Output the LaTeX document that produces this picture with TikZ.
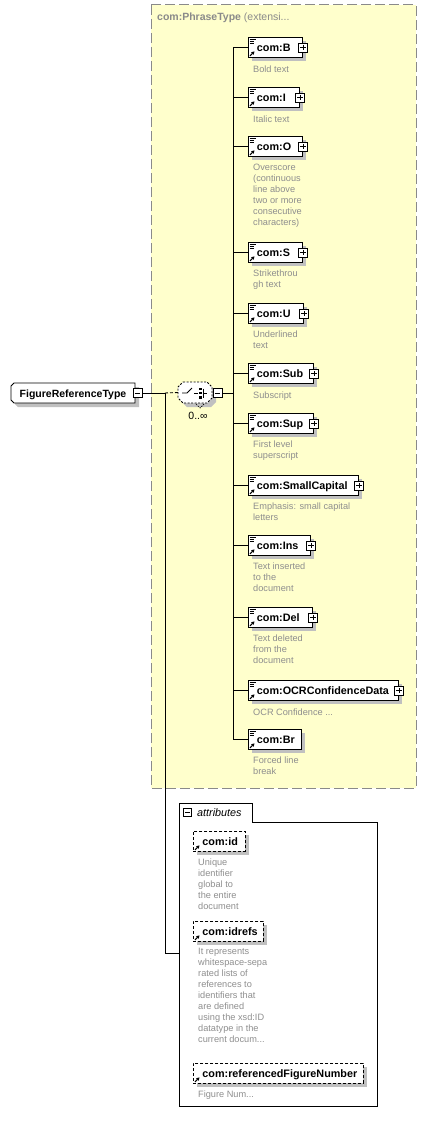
\documentclass[tikz,border=0pt]{standalone}
\usepackage{fontspec}
\setmainfont{Liberation Sans}
\usetikzlibrary{calc,shadows,arrows.meta}
\definecolor{ybg}{HTML}{FFFFCC}
\definecolor{ybord}{HTML}{8A8A8A}
\definecolor{desctxt}{HTML}{8E8E8E}
\definecolor{shad}{HTML}{C0C0C0}
\newcommand\xelicon[1]{%
  \draw[line width=0.7pt] ($(#1.north west)+(1.5,2)$) -- +(6,0);
  \draw[line width=0.7pt] ($(#1.north west)+(1.5,4)$) -- +(4.5,0);
  \draw[line width=0.7pt] ($(#1.north west)+(1.5,6)$) -- +(4.5,0);}
\newcommand\xarrow[1]{%
  \draw[line width=1pt,-{Triangle[length=3pt,width=3.4pt]}] ($(#1.south west)+(2,-2)$) -- +(4.5,-4.5);}
\newcommand\xplus[1]{%
  \node[pm] (#1p) at (#1.east) {};
  \draw[line width=0.8pt] ($(#1p.center)+(-2.7,0)$) -- +(5.4,0) ($(#1p.center)+(0,-2.7)$) -- +(0,5.4);}
\newcommand\xminus[1]{%
  \draw[line width=0.8pt] ($(#1.center)+(-2.7,0)$) -- +(5.4,0);}
\newcommand\xelem[4]{%
  \node[elem, text width=#3pt, anchor=north west] (#1) at (248,#2) {\hspace*{8.5pt}#4};
  \xelicon{#1}\xarrow{#1}}
\newcommand\xattr[4]{%
  \node[attrbox, text width=#3pt, anchor=north west] (#1) at (193,#2) {\hspace*{9pt}#4};
  \xarrow{#1}}
\begin{document}
\begin{tikzpicture}[x=1pt,y=-1pt,
  elem/.style={draw, fill=white, line width=0.9pt, inner xsep=0pt, inner ysep=0pt,
    minimum height=20pt, align=left, text height=10pt, text depth=1pt,
    font=\fontsize{10.8}{13}\selectfont\bfseries,
    general shadow={fill=shad, shadow xshift=4pt, shadow yshift=-4pt}},
  attrbox/.style={elem, dash pattern=on 3pt off 2pt},
  pm/.style={draw, fill=white, line width=0.8pt, minimum size=9pt, inner sep=0pt},
  descr/.style={anchor=north west, inner sep=0pt, align=left, text=desctxt,
    font=\fontsize{9.2}{11}\selectfont, execute at begin node=\strut},
  conn/.style={line width=0.9pt}]
\useasboundingbox (0,0) rectangle (427,1124);
% yellow extension area
\fill[ybg] (151,5) rectangle (416,788);
\draw[ybord, line width=1pt, dash pattern=on 10pt off 4pt] (151,5) rectangle (416,788);
\node[anchor=base west, inner sep=0pt, text=ybord, font=\fontsize{10.5}{12}\selectfont] (ptitle) at (157,21)
  {\textbf{com:PhraseType} (extensi...};
% root node
\fill[shad] (18,387) -- (139,387) -- (139,407) -- (18,407) -- (15,404) -- (15,390) -- cycle;
\draw[fill=white, line width=0.9pt] (14,383) -- (135,383) -- (135,403) -- (14,403) -- (11,400) -- (11,386) -- cycle;
\node[minimum width=124pt, minimum height=20pt, inner sep=0pt, text height=10pt, text depth=1pt,
  font=\fontsize{10.5}{12}\selectfont\bfseries] (root) at (73,393) {FigureReferenceType};
\node[pm] (rootm) at (137.5,393) {};
\xminus{rootm}
% choice compositor
\fill[shad] (187,386) -- (211,386) -- (216,391) -- (216,402) -- (211,407) -- (187,407) -- (182,402) -- (182,391) -- cycle;
\draw[fill=white, line width=0.9pt, dash pattern=on 2pt off 1.5pt] (183,382) -- (207,382) -- (212,387) -- (212,398) -- (207,403) -- (183,403) -- (178,398) -- (178,387) -- cycle;
\draw[line width=0.7pt, dash pattern=on 1.5pt off 1pt] (196,404) -- (200,408) -- (204,404);
\node[minimum width=34pt, minimum height=21pt, inner sep=0pt] (ch) at (195,392.5) {};
\draw[line width=0.9pt] (182,393) -- (187,393) -- (192,388);
\draw[line width=0.9pt] (194,393) -- (198,393);
\fill (198.5,387.5) rectangle (201.5,390);
\fill (198.5,391.8) rectangle (201.5,394.3);
\fill (198.5,396) rectangle (201.5,398.5);
\draw[line width=0.9pt] (203,388.5) -- (203,397.5) (203,393) -- (207,393);
\node[pm] (chm) at (217.5,393) {};
\xminus{chm}
\node[anchor=base, inner sep=0pt, font=\fontsize{10.5}{12}\selectfont] (card) at (198,419) {0..∞};
% child elements
\xelem{B}{37}{54}{com:B}\xplus{B}
\node[descr] (Bd) at (253,64.6) {Bold text};
\xelem{I}{87}{51}{com:I}\xplus{I}
\node[descr] (Id) at (253,114.6) {Italic text};
\xelem{O}{136}{54}{com:O}\xplus{O}
\node[descr] (Od) at (253,164.3) {Overscore\\(continuous\\line above\\two or more\\consecutive\\characters)};
\xelem{S}{242}{54}{com:S}\xplus{S}
\node[descr] (Sd) at (253,269.6) {Strikethrou\\gh text};
\xelem{U}{303}{55}{com:U}\xplus{U}
\node[descr] (Ud) at (253,330.6) {Underlined\\text};
\xelem{Sub}{363}{65}{com:Sub}\xplus{Sub}
\node[descr] (Subd) at (253,390.6) {Subscript};
\xelem{Sup}{413}{65}{com:Sup}\xplus{Sup}
\node[descr] (Supd) at (253,440.6) {First level\\superscript};
\xelem{SC}{475}{110}{com:SmallCapital}\xplus{SC}
\node[descr] (SCd) at (253,502.6) {Emphasis: small capital\\letters};
\xelem{Ins}{535}{62}{com:Ins}\xplus{Ins}
\node[descr] (Insd) at (253,562.6) {Text inserted\\to the\\document};
\xelem{Del}{607}{64}{com:Del}\xplus{Del}
\node[descr] (Deld) at (253,634.6) {Text deleted\\from the\\document};
\xelem{OCR}{680}{150}{com:OCRConfidenceData}\xplus{OCR}
\node[descr] (OCRd) at (253,707.6) {OCR Confidence ...};
\xelem{Br}{729}{53}{com:Br}
\node[descr] (Brd) at (253,756.6) {Forced line\\break};
% attributes group
\draw[line width=0.9pt] (179,803) -- (252,803) -- (252,822) -- (377,822) -- (377,1106) -- (179,1106) -- cycle;
\node[draw, fill=white, line width=0.8pt, minimum size=8pt, inner sep=0pt] (attm) at (187.5,812.5) {};
\xminus{attm}
\node[anchor=base west, inner sep=0pt, font=\fontsize{10.8}{12}\selectfont\itshape] (attl) at (197,816.5) {attributes};
\xattr{id}{831}{52}{com:id}
\node[descr] (idd) at (198,858.3) {Unique\\identifier\\global to\\the entire\\document};
\xattr{idrefs}{921}{70}{com:idrefs}
\node[descr] (idrefsd) at (198,948.3) {It represents\\whitespace-sepa\\rated lists of\\references to\\identifiers that\\are defined\\using the xsd:ID\\datatype in the\\current docum...};
\xattr{rfn}{1063}{170}{com:referencedFigureNumber}
\node[descr] (rfnd) at (198,1089.5) {Figure Num...};
% connectors
\coordinate (j1) at (165,393);
\coordinate (bus) at (233,393);
\coordinate (attin) at (179,953);
\draw[conn] (rootm.east) -- (j1);
\draw[conn, dash pattern=on 3pt off 2pt] (j1) -- (ch.west);
\draw[conn] (j1) |- (attin);
\draw[conn] (chm.east) -- (bus);
\foreach \n in {B,I,O,S,U,Sub,Sup,SC,Ins,Del,OCR,Br}
  \draw[conn] (bus) |- (\n.west);
\end{tikzpicture}
\end{document}
